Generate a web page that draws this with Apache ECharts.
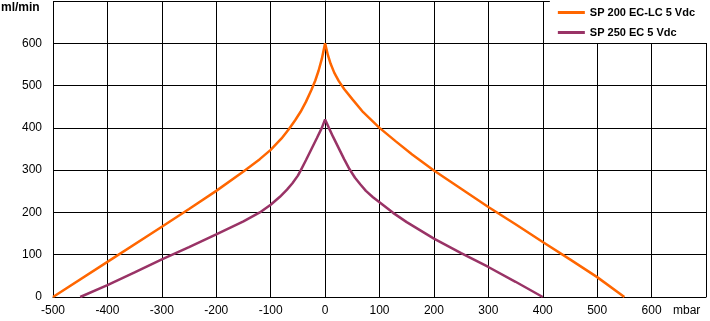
<!DOCTYPE html>
<html>
<head>
<meta charset="utf-8">
<script src="https://cdn.jsdelivr.net/npm/echarts@6/dist/echarts.min.js"></script>
<style>
  html, body { margin: 0; padding: 0; background: #fff; }
  #chart { width: 710px; height: 321px; }
</style>
</head>
<body>
<div id="chart"></div>
<script>
// flow curves (mbar, ml/min)
const sp200Name = 'SP 200 EC-LC 5 Vdc';
const sp200X = [-500, -400, -300, -250, -200, -150, -120, -100, -80, -66, -55, -45, -35, -25, -18, -12, -6, 0,
  5, 10, 17, 25, 35, 50, 70, 100, 130, 160, 200, 250, 300, 350, 400, 450, 500, 550];
const sp200Y = [0, 83, 166, 208, 251, 297, 326, 348, 375, 398, 418, 438, 462, 490, 512, 535, 563, 600,
  573, 552, 530, 511, 492, 468, 437, 400, 368, 337, 299, 256, 213, 172, 130, 89, 47, 0];

const sp250Name = 'SP 250 EC 5 Vdc';
const sp250X = [-450, -400, -350, -300, -250, -200, -150, -120, -100, -83, -70, -60, -50, -45, -35, -25, -15, -6, 0,
  7, 15, 25, 35, 45, 55, 65, 75, 88, 100, 125, 150, 200, 250, 300, 350, 400];
const sp250Y = [0, 28, 58, 89, 118, 148, 179, 200, 218, 237, 254, 269, 287, 299, 324, 350, 376, 400, 420,
  400, 378, 352, 326, 302, 282, 266, 251, 236, 224, 199, 177, 138, 104, 71, 36, 0];

const xMin = -500, xMax = 700, yMax = 700;

function pairs(xs, ys) {
  return xs.map((x, i) => [x, ys[i]]);
}

let myChart = echarts.init(document.getElementById('chart'));
let font = 'Liberation Sans, Arial, sans-serif';

let option = {
  animation: false,
  grid: { left: 53, right: 4, top: 1, bottom: 24 },
  legend: {
    orient: 'vertical',
    right: 0,
    top: 0,
    backgroundColor: '#fff',
    padding: [7, 15, 5, 8],
    itemWidth: 27,
    itemHeight: 3,
    itemGap: 9,
    icon: 'rect',
    textStyle: { fontFamily: font, fontSize: 11, fontWeight: 'bold', color: '#000' },
    data: [sp200Name, sp250Name]
  },
  xAxis: {
    type: 'value',
    min: xMin,
    max: xMax,
    interval: 100,
    axisLine: { lineStyle: { color: '#000', width: 1 } },
    axisTick: { show: false },
    splitLine: { show: true, lineStyle: { color: '#000', width: 1 } },
    axisLabel: {
      margin: 8,
      fontFamily: font, fontSize: 12, color: '#000',
      formatter: v => (v === xMax ? '' : String(v))
    }
  },
  yAxis: {
    type: 'value',
    min: 0,
    max: yMax,
    interval: 100,
    axisLine: { show: true, lineStyle: { color: '#000', width: 1 } },
    axisTick: { show: true, length: 4, lineStyle: { color: '#000' } },
    splitLine: { show: true, lineStyle: { color: '#000', width: 1 } },
    axisLabel: {
      margin: 11,
      fontFamily: font, fontSize: 12, color: '#000',
      formatter: v => (v === yMax ? '' : String(v))
    }
  },
  graphic: [
    { type: 'text', left: 1, top: 2, style: { text: 'ml/min', fontFamily: font, fontSize: 12, fontWeight: 'bold', fill: '#000' } },
    { type: 'text', left: 673, top: 305, style: { text: 'mbar', fontFamily: font, fontSize: 12, fill: '#000' } }
  ],
  series: [
    {
      name: sp200Name,
      type: 'line',
      showSymbol: false,
      color: '#ff6600',
      lineStyle: { width: 2.5 },
      data: pairs(sp200X, sp200Y),
      z: 3
    },
    {
      name: sp250Name,
      type: 'line',
      showSymbol: false,
      color: '#993366',
      lineStyle: { width: 2.5 },
      data: pairs(sp250X, sp250Y),
      z: 3
    }
  ]
};
myChart.setOption(option);
</script>
</body>
</html>
